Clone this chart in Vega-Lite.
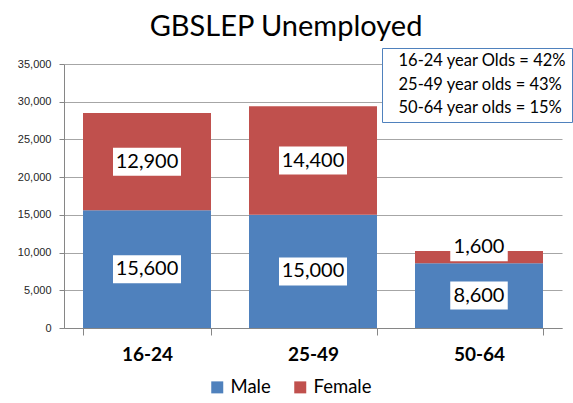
{
  "$schema": "https://vega.github.io/schema/vega-lite/v6.json",
  "width": 498,
  "height": 264,
  "autosize": "none",
  "padding": {"left": 64, "top": 64, "right": 11, "bottom": 75},
  "background": "white",
  "title": {"text": "GBSLEP Unemployed", "font": "Lato", "fontSize": 29, "fontWeight": "normal", "color": "black", "anchor": "middle", "dx": -27, "offset": 6},
  "config": {
    "view": {"stroke": null},
    "axis": {"domainColor": "#868686", "tickColor": "#868686", "gridColor": "#A6A6A6"},
    "axisY": {"grid": true, "gridWidth": 1},
    "axisX": {"grid": false}
  },
  "datasets": {
    "bars": [
      {"age": "16-24", "sex": "Male", "value": 15600},
      {"age": "16-24", "sex": "Female", "value": 12900},
      {"age": "25-49", "sex": "Male", "value": 15000},
      {"age": "25-49", "sex": "Female", "value": 14400},
      {"age": "50-64", "sex": "Male", "value": 8600},
      {"age": "50-64", "sex": "Female", "value": 1600}
    ],
    "notes": [
      {"note": "16-24 year Olds = 42%"},
      {"note": "25-49 year olds = 43%"},
      {"note": "50-64 year olds = 15%"}
    ]
  },
  "layer": [
    {
      "data": {"name": "bars"},
      "transform": [
        {"stack": "value", "groupby": ["age"], "sort": [{"field": "sex", "order": "descending"}], "as": ["y0", "y1"]}
      ],
      "mark": {"type": "bar"},
      "encoding": {
        "x": {"field": "age", "type": "nominal", "title": null,
          "scale": {"paddingInner": 0.229, "paddingOuter": 0.1145},
          "axis": {"labelAngle": 0, "labelFont": "Lato", "labelFontSize": 19, "labelFontWeight": "bold", "labelColor": "black", "tickBand": "extent", "tickSize": 7, "labelPadding": 10, "grid": false}},
        "y": {"field": "y0", "type": "quantitative", "title": null,
          "scale": {"domain": [0, 35000], "nice": false},
          "axis": {"values": [0, 5000, 10000, 15000, 20000, 25000, 30000, 35000], "format": ",d", "labelFont": "Liberation Sans", "labelFontSize": 11, "labelColor": "#262626", "tickSize": 5, "labelPadding": 8, "grid": true}},
        "y2": {"field": "y1"},
        "color": {"field": "sex", "type": "nominal",
          "scale": {"domain": ["Male", "Female"], "range": ["#4F81BD", "#C0504D"]},
          "legend": {"title": null, "orient": "none", "legendX": 144, "legendY": 314, "direction": "horizontal", "symbolType": "square", "symbolSize": 144, "symbolStrokeWidth": 0, "labelFont": "Lato", "labelFontSize": 18.5, "labelColor": "black", "labelOffset": 4, "columnPadding": 20}}
      }
    },
    {
      "data": {"name": "bars"},
      "transform": [
        {"stack": "value", "groupby": ["age"], "sort": [{"field": "sex", "order": "descending"}], "as": ["y0", "y1"]},
        {"calculate": "datum.y0 + datum.value / 2 + (datum.value < 3000 ? 1300 : 0)", "as": "mid"},
        {"calculate": "datum.mid - 1856", "as": "lo"},
        {"calculate": "datum.mid + 1856", "as": "hi"},
        {"calculate": "length(format(datum.value, ',')) * 10.5 + 5", "as": "w"}
      ],
      "mark": {"type": "bar", "color": "white"},
      "encoding": {
        "x": {"field": "age", "type": "nominal", "title": null},
        "y": {"field": "lo", "type": "quantitative", "title": null,
          "axis": {"values": [0, 5000, 10000, 15000, 20000, 25000, 30000, 35000], "format": ",d", "labelFont": "Liberation Sans", "labelFontSize": 11, "labelColor": "#262626", "tickSize": 5, "labelPadding": 8, "grid": true}},
        "y2": {"field": "hi"},
        "size": {"field": "w", "type": "quantitative", "scale": null, "legend": null}
      }
    },
    {
      "data": {"name": "bars"},
      "transform": [
        {"stack": "value", "groupby": ["age"], "sort": [{"field": "sex", "order": "descending"}], "as": ["y0", "y1"]},
        {"calculate": "datum.y0 + datum.value / 2 + (datum.value < 3000 ? 1300 : 0)", "as": "mid"}
      ],
      "mark": {"type": "text", "font": "Lato", "fontSize": 20, "color": "black", "baseline": "middle"},
      "encoding": {
        "x": {"field": "age", "type": "nominal", "title": null},
        "y": {"field": "mid", "type": "quantitative", "title": null,
          "axis": {"values": [0, 5000, 10000, 15000, 20000, 25000, 30000, 35000], "format": ",d", "labelFont": "Liberation Sans", "labelFontSize": 11, "labelColor": "#262626", "tickSize": 5, "labelPadding": 8, "grid": true}},
        "text": {"field": "value", "type": "quantitative", "format": ","}
      }
    },
    {
      "data": {"name": "notes"},
      "mark": {"type": "point", "opacity": 0},
      "encoding": {
        "shape": {"field": "note", "type": "nominal",
          "legend": {"title": null, "orient": "none", "legendX": 318, "legendY": -16, "strokeColor": "#4F81BD", "fillColor": "white", "cornerRadius": 0, "padding": 5, "symbolSize": 1, "symbolOpacity": 0, "labelOffset": -5, "labelFont": "Lato", "labelFontSize": 16.5, "labelColor": "black", "rowPadding": 6.5, "labelLimit": 400}}
      }
    }
  ]
}
